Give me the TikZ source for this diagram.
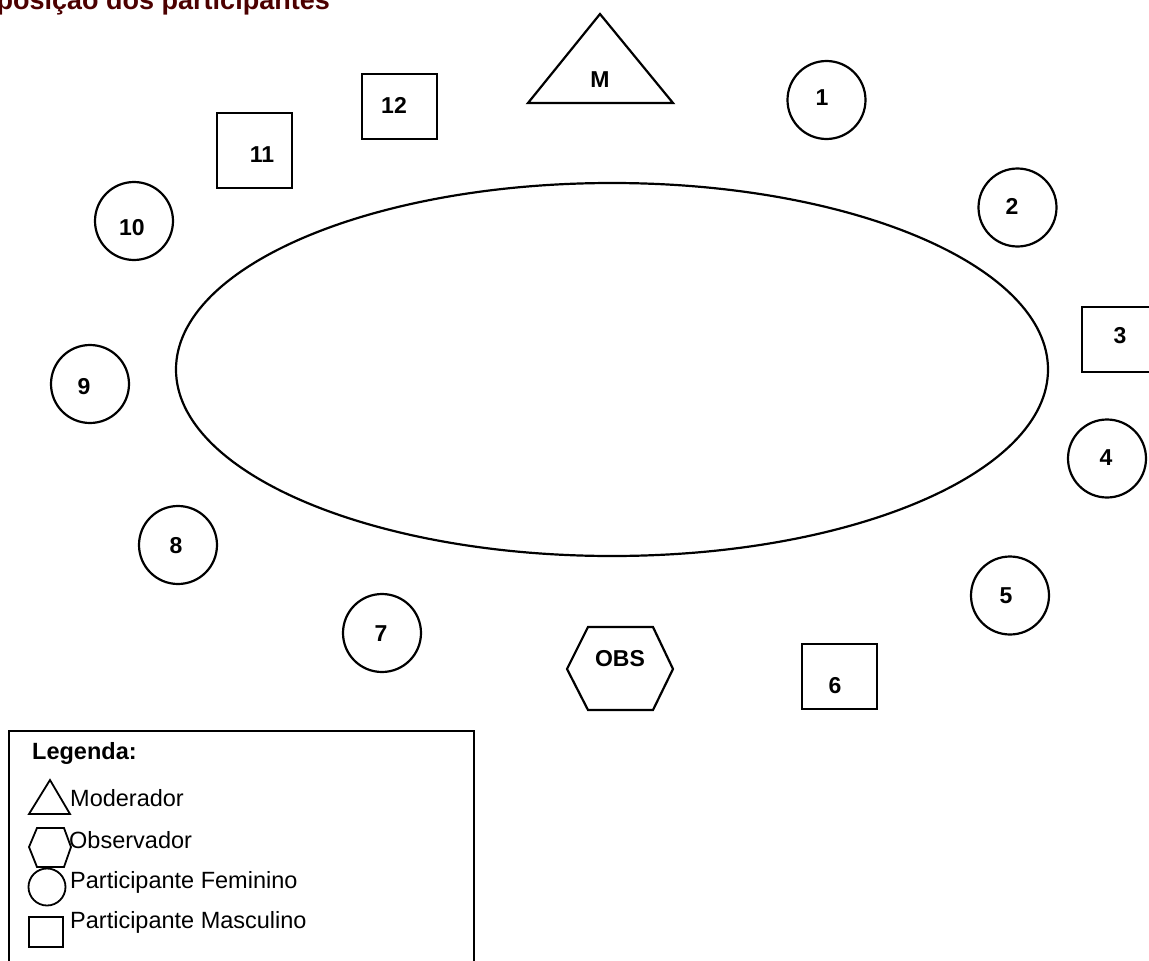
\documentclass[tikz,border=0pt]{standalone}
\usepackage{fontspec}
\setmainfont{Liberation Sans}
\definecolor{titlered}{rgb}{0.3,0,0}
\begin{document}
\begin{tikzpicture}[x=1pt,y=-1pt,line join=miter,
  shp/.style={draw,line width=2.2pt},
  seat/.style={circle,draw,line width=2.2pt,minimum size=78pt,inner sep=0pt},
  mseat/.style={rectangle,draw,line width=2.2pt,inner sep=0pt},
  num/.style={font=\fontsize{23}{27}\selectfont\bfseries,inner sep=0pt},
  leg/.style={font=\fontsize{23.5}{27}\selectfont,anchor=west,inner sep=0pt}]
\fill[white] (0,0) rectangle (1149,961);
\clip (0,0) rectangle (1149,961);
% title
\node[anchor=base east,font=\fontsize{27}{30}\selectfont\bfseries,text=titlered,inner sep=0pt] (title) at (330,9.5) {Disposição dos participantes};
% table
\draw[shp] (612,369.5) ellipse [x radius=436, y radius=186.5];
% moderator
\draw[shp] (600,14) -- (673,103) -- (528,103) -- cycle;
\node[num] (tM) at (600,80) {M};
% observer
\draw[shp] (567,669) -- (588,627) -- (653,627) -- (673,669) -- (653,710) -- (588,710) -- cycle;
\node[num] (tOBS) at (620,659) {OBS};
% female participants
\node[seat] (p1) at (826.5,100) {};
\node[seat] (p2) at (1017.5,207.5) {};
\node[seat] (p4) at (1107,458.5) {};
\node[seat] (p5) at (1010,595.5) {};
\node[seat] (p7) at (382,633) {};
\node[seat] (p8) at (178,545) {};
\node[seat] (p9) at (90,384) {};
\node[seat] (p10) at (134,221) {};
% male participants
\node[mseat,minimum width=73pt,minimum height=65pt] (p3) at (1118.5,339.5) {};
\node[mseat,minimum width=75pt,minimum height=65pt] (p6) at (839.5,676.5) {};
\node[mseat,minimum width=75pt,minimum height=75pt] (p11) at (254.5,150.5) {};
\node[mseat,minimum width=75pt,minimum height=65pt] (p12) at (399.5,106.5) {};
% numbers
\node[num] (t1) at (822,98) {1};
\node[num] (t2) at (1012,206) {2};
\node[num] (t3) at (1120,336) {3};
\node[num] (t4) at (1106,458) {4};
\node[num] (t5) at (1006,596) {5};
\node[num] (t6) at (835,686) {6};
\node[num] (t7) at (381,634) {7};
\node[num] (t8) at (176,546) {8};
\node[num] (t9) at (84,387) {9};
\node[num] (t10) at (132,228) {10};
\node[num] (t11) at (262,155) {11};
\node[num] (t12) at (394,105) {12};
% legend
\draw[line width=1.6pt] (9,731) rectangle (474,980);
\node[leg,font=\fontsize{23.5}{27}\selectfont\bfseries] (lgtitle) at (32,753) {Legenda:};
\draw[line width=1.8pt] (50,780) -- (70,814) -- (29,814) -- cycle;
\node[leg] (lgM) at (70,798) {Moderador};
\draw[line width=1.8pt] (29,847) -- (37,828) -- (64,828) -- (71,847) -- (64,867) -- (37,867) -- cycle;
\node[leg] (lgO) at (69,840) {Observador};
\draw[line width=1.8pt] (47,887) circle [radius=18.5];
\node[leg] (lgF) at (70,882) {Participante Feminino};
\draw[line width=1.8pt] (29,917) rectangle (63,947);
\node[leg] (lgMa) at (70,922) {Participante Masculino};
\end{tikzpicture}
\end{document}
